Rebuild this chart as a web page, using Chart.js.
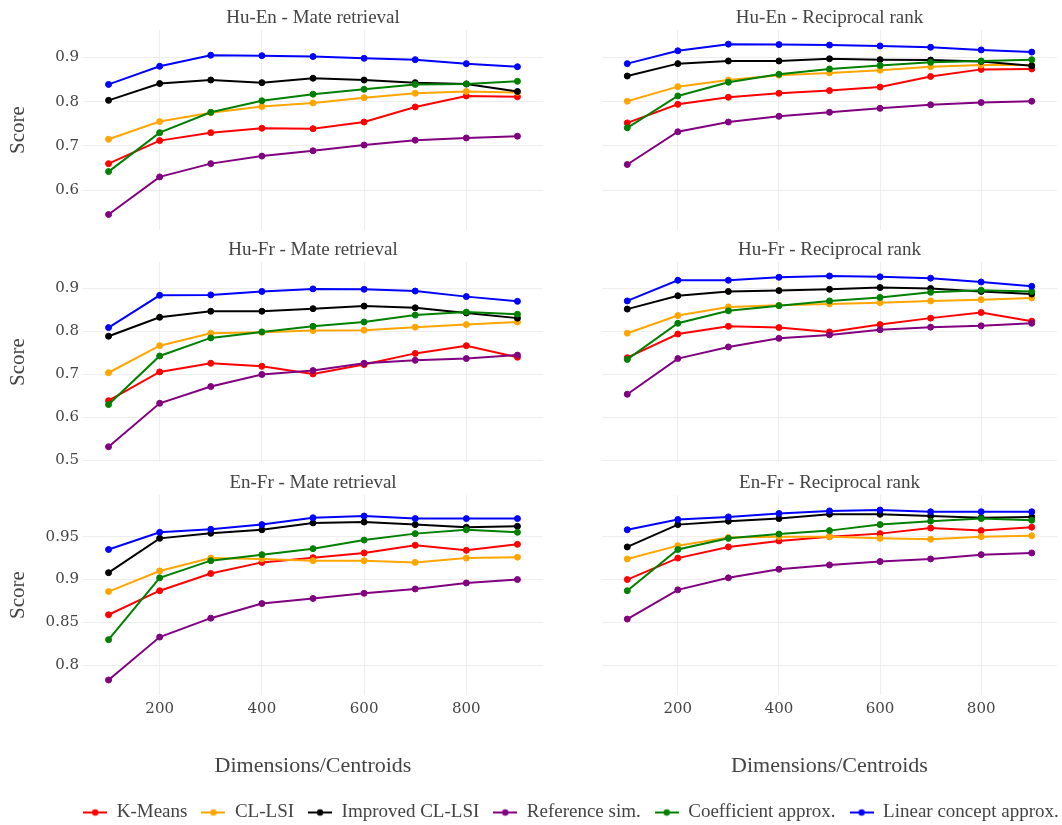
<!DOCTYPE html>
<html>
<head>
<meta charset="utf-8">
<script src="https://cdn.jsdelivr.net/npm/chart.js@4.4.1/dist/chart.umd.min.js"></script>
<style>
  html, body { margin: 0; padding: 0; background: #fff; overflow: hidden; width: 1062px; height: 825px; }
  #wrap { position: relative; width: 1062px; height: 825px; overflow: hidden; }
  #wrap canvas { position: absolute; }
</style>
</head>
<body>
<div id="wrap"></div>
<script>
// Number of dimensions / centroids on the x axis
const dims = [100, 200, 300, 400, 500, 600, 700, 800, 900];
const xTickValues = [200, 400, 600, 800];

const seriesNames = ['K-Means', 'CL-LSI', 'Improved CL-LSI', 'Reference sim.', 'Coefficient approx.', 'Linear concept approx.'];
const seriesColors = ['red', 'orange', 'black', 'purple', 'green', 'blue'];

// Scores per method (order follows seriesNames)
const huEnMate = [
  [0.660, 0.712, 0.730, 0.740, 0.739, 0.754, 0.788, 0.813, 0.811],
  [0.715, 0.755, 0.775, 0.789, 0.797, 0.809, 0.819, 0.823, 0.821],
  [0.803, 0.841, 0.849, 0.843, 0.853, 0.849, 0.843, 0.840, 0.823],
  [0.545, 0.630, 0.660, 0.677, 0.689, 0.702, 0.713, 0.718, 0.722],
  [0.642, 0.730, 0.776, 0.802, 0.817, 0.828, 0.839, 0.840, 0.846],
  [0.839, 0.880, 0.905, 0.904, 0.902, 0.898, 0.895, 0.886, 0.879]
];
const huEnRecip = [
  [0.752, 0.794, 0.810, 0.819, 0.825, 0.833, 0.857, 0.873, 0.874],
  [0.801, 0.834, 0.849, 0.860, 0.865, 0.871, 0.879, 0.883, 0.883],
  [0.858, 0.886, 0.892, 0.892, 0.897, 0.895, 0.894, 0.891, 0.881],
  [0.658, 0.732, 0.754, 0.767, 0.776, 0.785, 0.793, 0.798, 0.801],
  [0.741, 0.813, 0.844, 0.862, 0.874, 0.882, 0.889, 0.892, 0.895],
  [0.886, 0.915, 0.930, 0.929, 0.928, 0.926, 0.923, 0.917, 0.912]
];
const huFrMate = [
  [0.639, 0.706, 0.726, 0.719, 0.701, 0.723, 0.749, 0.767, 0.740],
  [0.704, 0.767, 0.796, 0.798, 0.802, 0.803, 0.810, 0.816, 0.822],
  [0.789, 0.833, 0.847, 0.847, 0.853, 0.859, 0.855, 0.843, 0.831],
  [0.532, 0.633, 0.672, 0.700, 0.709, 0.726, 0.733, 0.737, 0.745],
  [0.630, 0.743, 0.785, 0.799, 0.812, 0.822, 0.838, 0.845, 0.840],
  [0.809, 0.884, 0.885, 0.893, 0.899, 0.898, 0.894, 0.881, 0.870]
];
const huFrRecip = [
  [0.739, 0.794, 0.812, 0.809, 0.799, 0.816, 0.831, 0.844, 0.824],
  [0.796, 0.837, 0.857, 0.861, 0.864, 0.867, 0.871, 0.874, 0.878],
  [0.852, 0.883, 0.893, 0.895, 0.898, 0.902, 0.900, 0.893, 0.887],
  [0.654, 0.737, 0.764, 0.784, 0.792, 0.804, 0.810, 0.813, 0.819],
  [0.735, 0.819, 0.848, 0.860, 0.871, 0.879, 0.891, 0.896, 0.893],
  [0.871, 0.919, 0.919, 0.926, 0.929, 0.927, 0.924, 0.915, 0.905]
];
const enFrMate = [
  [0.859, 0.887, 0.907, 0.920, 0.9255, 0.931, 0.940, 0.934, 0.941],
  [0.886, 0.910, 0.925, 0.924, 0.922, 0.922, 0.920, 0.925, 0.926],
  [0.908, 0.948, 0.954, 0.958, 0.966, 0.967, 0.964, 0.961, 0.962],
  [0.783, 0.833, 0.855, 0.872, 0.878, 0.884, 0.889, 0.896, 0.900],
  [0.830, 0.902, 0.922, 0.929, 0.936, 0.946, 0.9535, 0.958, 0.955],
  [0.935, 0.955, 0.9585, 0.964, 0.972, 0.974, 0.971, 0.971, 0.971]
];
const enFrRecip = [
  [0.900, 0.925, 0.938, 0.945, 0.950, 0.9535, 0.960, 0.957, 0.961],
  [0.924, 0.9395, 0.949, 0.950, 0.950, 0.948, 0.947, 0.950, 0.951],
  [0.938, 0.964, 0.968, 0.971, 0.976, 0.976, 0.974, 0.972, 0.973],
  [0.854, 0.888, 0.902, 0.912, 0.917, 0.921, 0.924, 0.929, 0.931],
  [0.887, 0.935, 0.948, 0.953, 0.957, 0.964, 0.968, 0.971, 0.969],
  [0.958, 0.970, 0.973, 0.977, 0.980, 0.981, 0.979, 0.979, 0.979]
];

// y-axis ranges and ticks, one per row (rows share the y axis)
const rowYRange = [[0.510, 0.962], [0.4965, 0.9615], [0.7655, 0.9985]];
const rowYTicks = [[0.6, 0.7, 0.8, 0.9], [0.5, 0.6, 0.7, 0.8, 0.9], [0.8, 0.85, 0.9, 0.95]];

const panels = [
  { title: 'Hu-En - Mate retrieval', values: huEnMate, row: 0, col: 0 },
  { title: 'Hu-En - Reciprocal rank', values: huEnRecip, row: 0, col: 1 },
  { title: 'Hu-Fr - Mate retrieval', values: huFrMate, row: 1, col: 0 },
  { title: 'Hu-Fr - Reciprocal rank', values: huFrRecip, row: 1, col: 1 },
  { title: 'En-Fr - Mate retrieval', values: enFrMate, row: 2, col: 0 },
  { title: 'En-Fr - Reciprocal rank', values: enFrRecip, row: 2, col: 1 }
];

// Grid geometry (canvas placement of each subplot)
const TITLE_H = 30;
const PLOT_H = 200;
const rowCanvasTop = [0, 232, 465];
const colCanvasLeft = [0, 597];
const colYAxisW = [83, 0];
const PLOT_W = 465;
const BOTTOM_AXIS_H = 88;
const FILLER_AXIS_H = 14;

const TEXT = '#444';
const GRID = '#eeeeee';
const SERIF = "'Liberation Serif', 'Times New Roman', serif";
const TICK_FONT = { family: "'DejaVu Serif', serif", size: 15 };

Chart.defaults.font.family = SERIF;
Chart.defaults.color = TEXT;

const wrap = document.getElementById('wrap');

function makeCanvas(left, top, w, h) {
  const c = document.createElement('canvas');
  c.width = w; c.height = h;
  c.style.left = left + 'px'; c.style.top = top + 'px';
  c.style.width = w + 'px'; c.style.height = h + 'px';
  wrap.appendChild(c);
  return c;
}

const fmtTick = v => String(+Number(v).toFixed(2));

panels.forEach(p => {
  const isBottom = p.row === 2;
  const isLeft = p.col === 0;
  const axisH = isBottom ? BOTTOM_AXIS_H : FILLER_AXIS_H;
  const w = colYAxisW[p.col] + PLOT_W;
  const h = TITLE_H + PLOT_H + axisH;
  const canvas = makeCanvas(colCanvasLeft[p.col], rowCanvasTop[p.row], w, h);

  const datasets = p.values.map((vals, i) => ({
    label: seriesNames[i],
    data: vals.map((v, k) => ({ x: dims[k], y: v })),
    borderColor: seriesColors[i],
    backgroundColor: seriesColors[i],
    borderWidth: 2,
    pointRadius: 3,
    pointBorderWidth: 1,
    pointBorderColor: seriesColors[i],
    pointBackgroundColor: seriesColors[i],
    tension: 0,
    order: seriesNames.length - i
  }));

  new Chart(canvas, {
    type: 'line',
    data: { datasets },
    options: {
      responsive: false,
      animation: false,
      devicePixelRatio: 1,
      layout: { padding: 0 },
      events: [],
      plugins: {
        legend: { display: false },
        tooltip: { enabled: false },
        title: {
          display: true,
          text: p.title,
          fullSize: false,
          color: TEXT,
          font: { family: SERIF, size: 19, weight: 'normal', lineHeight: 1.2 },
          padding: { top: 7, bottom: 0.2 }
        }
      },
      scales: {
        x: {
          type: 'linear',
          min: 50,
          max: 950,
          afterBuildTicks: s => { s.ticks = xTickValues.map(v => ({ value: v })); },
          afterFit: s => { s.height = axisH; },
          grid: { color: GRID, lineWidth: 1, drawTicks: false },
          border: { display: false },
          ticks: { display: isBottom, color: TEXT, font: TICK_FONT, padding: 5, maxRotation: 0 },
          title: {
            display: isBottom,
            text: 'Dimensions/Centroids',
            color: TEXT,
            font: { family: SERIF, size: 22 },
            padding: { top: 0, bottom: 4 }
          }
        },
        y: {
          type: 'linear',
          min: rowYRange[p.row][0],
          max: rowYRange[p.row][1],
          afterBuildTicks: s => { s.ticks = rowYTicks[p.row].map(v => ({ value: v })); },
          afterFit: s => { s.width = colYAxisW[p.col]; },
          grid: { color: GRID, lineWidth: 1, drawTicks: false },
          border: { display: false },
          ticks: { display: isLeft, color: TEXT, font: TICK_FONT, padding: 4, callback: fmtTick },
          title: {
            display: isLeft,
            text: 'Score',
            color: TEXT,
            font: { family: SERIF, size: 21 },
            padding: { top: 6, bottom: 4 }
          }
        }
      }
    }
  });
});

// Legend: line-with-dot swatches drawn through Chart.js's legend
function swatch(color) {
  const c = document.createElement('canvas');
  c.width = 24; c.height = 10;
  const g = c.getContext('2d');
  g.strokeStyle = color; g.lineWidth = 2;
  g.beginPath(); g.moveTo(0, 5); g.lineTo(24, 5); g.stroke();
  g.fillStyle = color;
  g.beginPath(); g.arc(12, 5, 3.2, 0, Math.PI * 2); g.fill();
  return c;
}

// Tall canvas so the legend box is not clipped (the wrapper hides the overflow)
const legendCanvas = makeCanvas(40, 789, 1062, 120);
new Chart(legendCanvas, {
  type: 'line',
  data: {
    datasets: seriesNames.map((name, i) => ({
      label: name,
      data: [],
      borderColor: seriesColors[i],
      backgroundColor: seriesColors[i],
      pointStyle: swatch(seriesColors[i])
    }))
  },
  options: {
    responsive: false,
    animation: false,
    devicePixelRatio: 1,
    events: [],
    layout: { padding: 0 },
    scales: { x: { display: false }, y: { display: false } },
    plugins: {
      tooltip: { enabled: false },
      legend: {
        display: true,
        position: 'top',
        labels: {
          usePointStyle: true,
          pointStyleWidth: 24,
          padding: 14,
          color: TEXT,
          font: { family: SERIF, size: 19 }
        }
      }
    }
  }
});
</script>
</body>
</html>
